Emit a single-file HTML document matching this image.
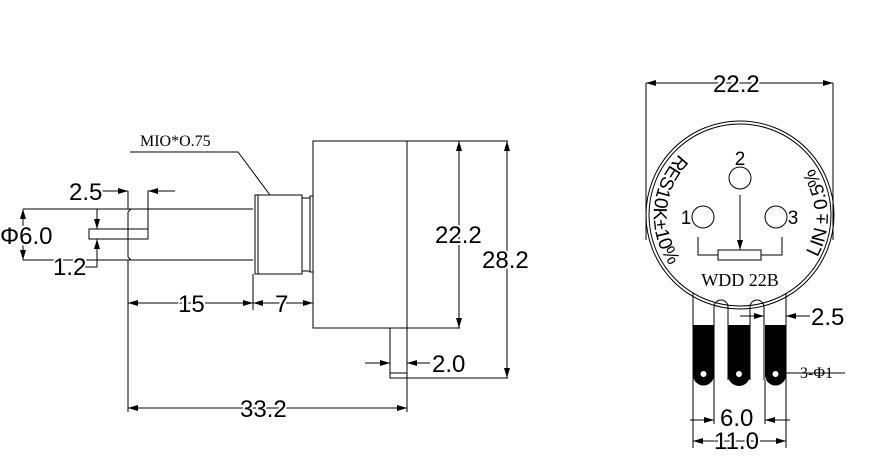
<!DOCTYPE html>
<html><head><meta charset="utf-8"><style>
html,body{margin:0;padding:0;background:#fff;}
svg{display:block;}
text{font-family:"Liberation Sans",sans-serif;fill:#000;}
.s{font-family:"Liberation Serif",serif;}
.d text{stroke:#fff;stroke-width:4px;paint-order:stroke;}
</style></head><body>
<svg width="878" height="471" viewBox="0 0 878 471" xmlns="http://www.w3.org/2000/svg">
<defs>
<marker id="a" viewBox="0 0 10 6" refX="10" refY="3" markerWidth="11" markerHeight="6" orient="auto-start-reverse" markerUnits="userSpaceOnUse"><path d="M0,0 L10,3 L0,6 Z" fill="#000"/></marker>
<path id="lp" d="M 695 142 A 86 86 0 0 0 683 280" fill="none"/>
<path id="rp" d="M 812 266 A 86 86 0 0 0 807 160" fill="none"/>
</defs>
<g stroke="#000" stroke-width="1" fill="none">
<path d="M131,209 H253 M131,260 H253 M128,212 V257 M128,212 L131,209 M128,257 L131,260"/>
<rect x="89" y="229" width="59" height="10"/>
<rect x="255" y="195" width="47" height="79"/>
<path d="M258,195 V274"/>
<rect x="302" y="198" width="8" height="73"/>
<rect x="310" y="196" width="3" height="76"/>
<rect x="313" y="141" width="94" height="187"/>
<path d="M407,141 H508 M407,328 H460"/>
<rect x="390" y="328" width="17" height="50"/>
<path d="M390,373 H407 M407,378 V412 M390,378 H508"/>
<path d="M128,260 V412 M253,274 V310 M313,328 V310"/>
<path d="M148,229 V191 H175 M128,209 V191"/>
<path d="M100,191 H128" marker-end="url(#a)"/>
<path d="M175,191 H148" marker-end="url(#a)"/>
<path d="M23,235 V209" marker-end="url(#a)"/>
<path d="M23,235 V260" marker-end="url(#a)"/>
<path d="M23,209 H131 M23,260 H131"/>
<path d="M97,209 V229" marker-end="url(#a)"/>
<path d="M97,267 V239" marker-end="url(#a)"/>
<path d="M84,267 H97"/>
<path d="M128,303 H253" marker-end="url(#a)" marker-start="url(#a)"/>
<path d="M253,303 H313" marker-end="url(#a)" marker-start="url(#a)"/>
<path d="M128,408 H407" marker-end="url(#a)" marker-start="url(#a)"/>
<path d="M459,141 V328" marker-end="url(#a)" marker-start="url(#a)"/>
<path d="M507,141 V378" marker-end="url(#a)" marker-start="url(#a)"/>
<path d="M365,363 H390" marker-end="url(#a)"/>
<path d="M430,363 H407" marker-end="url(#a)"/>
<path d="M130,152 H238 L270,195"/>
<circle cx="740" cy="215" r="94"/>
<circle cx="740" cy="215" r="91"/>
<path d="M646,83 V240 M833,83 V240"/>
<path d="M646,83 H833" marker-end="url(#a)" marker-start="url(#a)"/>
<circle cx="740" cy="178" r="11"/>
<circle cx="703" cy="217" r="11"/>
<circle cx="776" cy="217" r="11"/>
<path d="M698,237 V255 H718 M761,255 H782 V237"/>
<rect x="718" y="250" width="43" height="10"/>
<path d="M740,195 V250" marker-end="url(#a)"/>
<path d="M693,293 V380 M786,293 V380"/>
<path d="M714,380 V307 A7,7 0 0 1 728,307 V380 M750,380 V307 A7,7 0 0 1 764,307 V380"/>
<path d="M693,380 V448 M714,380 V424 M765,380 V424 M786,380 V448"/>
<path d="M690,420 H714" marker-end="url(#a)"/>
<path d="M790,420 H765" marker-end="url(#a)"/>
<path d="M693,441 H786" marker-end="url(#a)" marker-start="url(#a)"/>
<path d="M740,316 H764" marker-end="url(#a)"/>
<path d="M810,316 H786" marker-end="url(#a)"/>
<path d="M765,373 H845"/>
</g>
<g fill="#000">
<path d="M693,325 H714 V375 A10.5,10.5 0 0 1 693,375 Z"/>
<path d="M728,325 H750 V375 A11,11 0 0 1 728,375 Z"/>
<path d="M765,325 H786 V375 A10.5,10.5 0 0 1 765,375 Z"/>
</g>
<g fill="#fff"><circle cx="703.5" cy="374" r="3"/><circle cx="739" cy="374" r="3"/><circle cx="775.5" cy="374" r="3"/></g>
<g class="d" font-size="24">
<text x="69" y="200">2.5</text>
<text x="0" y="244">Φ6.0</text>
<text x="53" y="275">1.2</text>
<text x="178" y="312">15</text>
<text x="275" y="312">7</text>
<text x="240" y="417">33.2</text>
<text x="435" y="243">22.2</text>
<text x="482" y="268">28.2</text>
<text x="432" y="372">2.0</text>
<text x="713" y="92">22.2</text>
<text x="811" y="325">2.5</text>
<text x="720" y="426">6.0</text>
<text x="714" y="449">11.0</text>
</g>
<text class="s" x="140" y="146" font-size="16">MIO*O.75</text>
<text class="s" x="800" y="378" font-size="16">3-Φ1</text>
<text class="s" x="740" y="286" font-size="18" text-anchor="middle">WDD 22B</text>
<g font-size="19" text-anchor="middle">
<text x="740" y="165">2</text><text x="686" y="224">1</text><text x="793" y="224">3</text>
</g>
<text font-size="19"><textPath href="#lp" startOffset="50%" text-anchor="middle">RES10K±10%</textPath></text>
<text font-size="19"><textPath href="#rp" startOffset="50%" text-anchor="middle">LIN ± 0.5%</textPath></text>
</svg>
</body></html>
